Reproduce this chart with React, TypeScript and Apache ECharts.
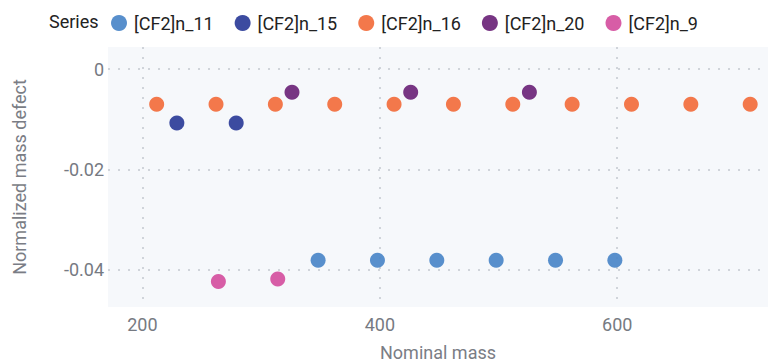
import React, { useEffect, useRef } from "react";
import * as echarts from "echarts";

const seriesNames = ["[CF2]n_11", "[CF2]n_15", "[CF2]n_16", "[CF2]n_20", "[CF2]n_9"];
const colors = ["#4a86c8", "#2b3c98", "#f26c3c", "#6b2478", "#d44f9e"];

const n11Mass = [348, 398, 448, 498, 548, 598];
const n11Defect = [-0.0381, -0.0381, -0.0381, -0.0381, -0.0381, -0.0381];
const n15Mass = [229, 279];
const n15Defect = [-0.01075, -0.01075];
const n16Mass = [212, 262, 312, 362, 412, 462, 512, 562, 612, 662, 712];
const n16Defect = [-0.0070, -0.0070, -0.0070, -0.0070, -0.0070, -0.0070, -0.0070, -0.0070, -0.0070, -0.0070, -0.0070];
const n20Mass = [326, 426, 526];
const n20Defect = [-0.0046, -0.0046, -0.0046];
const n9Mass = [264, 314];
const n9Defect = [-0.0423, -0.0418];

const masses = [n11Mass, n15Mass, n16Mass, n20Mass, n9Mass];
const defects = [n11Defect, n15Defect, n16Defect, n20Defect, n9Defect];

export default function App() {
  const ref = useRef<HTMLDivElement>(null);
  useEffect(() => {
    if (!ref.current) return;
    const chart = echarts.init(ref.current, undefined, { renderer: "svg" });
    const font = "Roboto, 'Noto Sans', sans-serif";
    chart.setOption({
      animation: false,
      textStyle: { fontFamily: font },
      graphic: [
        {
          type: "text",
          left: 49,
          top: 12,
          style: { text: "Series", fontSize: 18, fontFamily: font, fill: "#222" },
        },
      ],
      legend: {
        left: 106,
        top: 9,
        padding: 5,
        icon: "circle",
        itemWidth: 16,
        itemHeight: 16,
        itemGap: 21,
        textStyle: { fontSize: 18, color: "#222", fontFamily: font, padding: [0, 0, 0, 2] },
        data: seriesNames,
      },
      grid: {
        left: 108,
        right: 0,
        top: 47,
        bottom: 55,
        show: true,
        backgroundColor: "#f6f8fb",
        borderWidth: 0,
        containLabel: false,
        outerBoundsMode: "none",
      },
      xAxis: {
        type: "value",
        min: 171,
        max: 727,
        splitNumber: 3,
        name: "Nominal mass",
        nameLocation: "middle",
        nameGap: 36,
        nameTextStyle: { fontSize: 18, color: "#7a7d85", fontFamily: font },
        axisLine: { show: false },
        axisTick: { show: false },
        axisLabel: {
          fontSize: 18,
          color: "#767a82",
          margin: 8,
          showMinLabel: false,
          showMaxLabel: false,
        },
        splitLine: {
          show: true,
          showMinLine: false,
          showMaxLine: false,
          lineStyle: { type: [2, 8], color: "#c4c8d0", width: 1.5 },
        },
      },
      yAxis: {
        type: "value",
        min: -0.0474,
        max: 0.0044,
        splitNumber: 3,
        name: "Normalized mass defect",
        nameLocation: "middle",
        nameGap: 80,
        nameTextStyle: { fontSize: 18, color: "#7a7d85", fontFamily: font },
        axisLine: { show: false },
        axisTick: { show: false },
        axisLabel: {
          fontSize: 18,
          color: "#767a82",
          margin: 4,
          showMinLabel: false,
          showMaxLabel: false,
          formatter: (v: number) => (Math.abs(v) < 1e-9 ? "0" : String(Number(v.toFixed(4)))),
        },
        splitLine: {
          show: true,
          showMinLine: false,
          showMaxLine: false,
          lineStyle: { type: [2, 8], color: "#c4c8d0", width: 1.5 },
        },
      },
      series: seriesNames.map((name, i) => ({
        name,
        type: "scatter",
        symbolSize: 15,
        itemStyle: { color: colors[i], opacity: 0.92 },
        data: masses[i].map((m, j) => [m, defects[i][j]]),
      })),
    });
    return () => chart.dispose();
  }, []);
  return <div ref={ref} style={{ width: 768, height: 362, position: "absolute", left: 0, top: 0 }} />;
}
